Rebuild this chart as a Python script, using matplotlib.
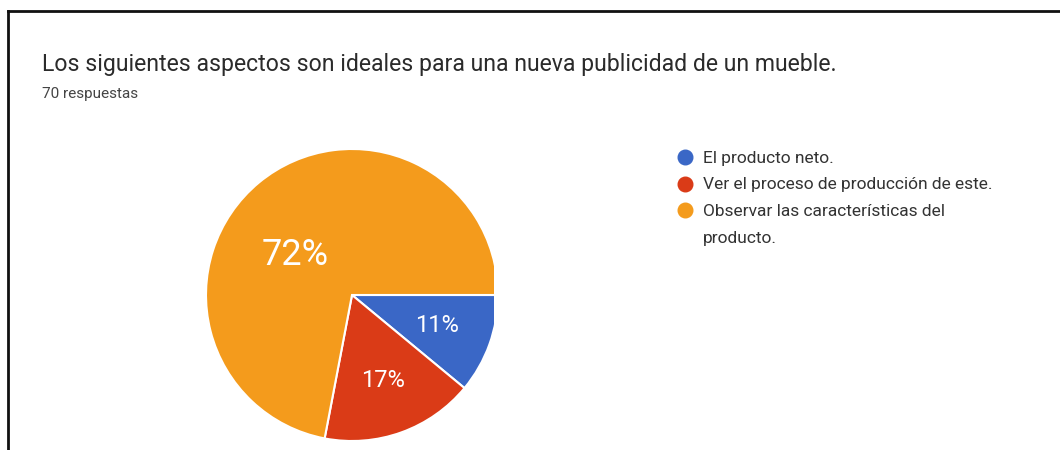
import matplotlib
matplotlib.use("Agg")
import matplotlib.pyplot as plt
from matplotlib.lines import Line2D
import numpy as np

plt.rcParams['font.family'] = ['Roboto', 'DejaVu Sans']

# Survey results
title = "Los siguientes aspectos son ideales para una nueva publicidad de un mueble."
subtitle = "70 respuestas"
categories = ["El producto neto.",
              "Ver el proceso de producción de este.",
              "Observar las características del\nproducto."]
shares = [11, 17, 72]
colors = ["#3a67c6", "#da3b17", "#f49b1c"]

W, H = 1060, 450
fig = plt.figure(figsize=(W / 100, H / 100), dpi=100)
fig.patch.set_facecolor("white")


def px(x, y):
    """Pixel position (from top-left) to figure fraction."""
    return x / W, 1 - y / H


# frame lines along the top and left edges
fig.add_artist(Line2D([8 / W, 8 / W], [0, 1 - 11 / H], transform=fig.transFigure,
                      color="#111111", lw=2))
fig.add_artist(Line2D([8 / W, 1], [1 - 11 / H, 1 - 11 / H], transform=fig.transFigure,
                      color="#111111", lw=2))

# titles
fig.text(*px(42, 71), title, fontsize=16.6, color="#2b2b2b", va="baseline", ha="left")
fig.text(*px(42, 98), subtitle, fontsize=11, color="#444444", va="baseline", ha="left")

# pie, slightly cropped on the right and top
cx, cy, r = 352, 295, 146
x_right, y_top = 494, 150
left_px = cx - r
bottom_px = cy + r
ax = fig.add_axes([left_px / W, 1 - bottom_px / H,
                   (x_right - left_px) / W, (bottom_px - y_top) / H])
wedges, texts, autotexts = ax.pie(
    shares, colors=colors, startangle=0, counterclock=False,
    autopct=lambda p: f"{p:.0f}%", pctdistance=0.62,
    wedgeprops=dict(edgecolor="white", linewidth=1.5),
    textprops=dict(color="white"))
for w in wedges:
    w.set_clip_on(True)
ax.set_xlim(-1, (x_right - cx) / r)
ax.set_ylim(-1, (cy - y_top) / r)
ax.set_aspect("auto")
ax.axis("off")
for t in autotexts[:2]:
    t.set_fontsize(17)
# the large slice carries its label nearer the centre
autotexts[2].set_fontsize(26)
ang = np.deg2rad(144.4)
autotexts[2].set_position((0.476 * np.cos(ang), 0.476 * np.sin(ang)))

# legend
lx, ly0, step = 685, 157, 26.5
fs = 12.5
row = 0
for lab, col in zip(categories, colors):
    y = ly0 + row * step
    fig.add_artist(Line2D([lx / W], [1 - y / H], transform=fig.transFigure,
                          marker="o", markersize=10.5, color=col, lw=0))
    for line in lab.split("\n"):
        fig.text(*px(703, ly0 + row * step + 6), line, fontsize=fs, color="#333333",
                 va="baseline", ha="left")
        row += 1

fig.savefig("out.png", dpi=100)
